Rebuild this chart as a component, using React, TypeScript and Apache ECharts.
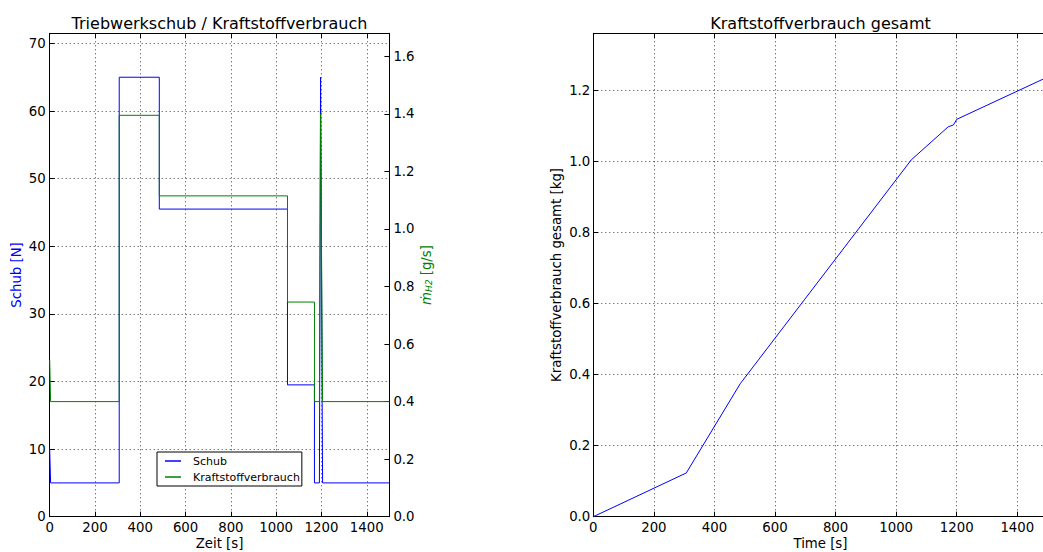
import React, { useEffect, useRef } from "react";
import * as echarts from "echarts";

const F = "DejaVu Sans";

// Left chart: thrust [N] and H2 mass flow [g/s] over time [s]
const thrustTime = [0, 4, 307, 307, 484, 484, 1050, 1050, 1169, 1169, 1191, 1196, 1198, 1205, 1500];
const thrustN = [10, 5, 5, 65, 65, 45.5, 45.5, 19.5, 19.5, 5, 5, 65, 65, 5, 5];
const fuelTime = [0, 4, 307, 307, 484, 484, 1050, 1050, 1169, 1169, 1191, 1196, 1198, 1205, 1500];
const fuelRate = [0.545, 0.4, 0.4, 1.395, 1.395, 1.115, 1.115, 0.746, 0.746, 0.4, 0.4, 1.4, 1.4, 0.4, 0.4];

// Right chart: cumulative fuel [kg]
const totalTime = [0, 307, 485, 1050, 1172, 1189, 1200, 1500];
const totalFuel = [0, 0.123, 0.374, 1.004, 1.097, 1.102, 1.118, 1.237];

const legendNames = ["Schub", "Kraftstoffverbrauch"];
const titles = ["Triebwerkschub / Kraftstoffverbrauch", "Kraftstoffverbrauch gesamt"];

export default function App() {
  const ref = useRef<HTMLDivElement>(null);
  useEffect(() => {
    if (!ref.current) return;
    const chart = echarts.init(ref.current, null, { renderer: "svg" });
    const FS = 13.3;
    const axisLine = { show: true, onZero: false, lineStyle: { color: "#000", width: 1 } };
    const tick = { show: true, inside: true, length: 5, lineStyle: { color: "#000", width: 1 } };
    const split = { show: true, lineStyle: { color: "#000", type: [1, 3], width: 1, opacity: 0.75 } };
    const lbl = { color: "#000", fontSize: FS, fontFamily: F };
    const nameStyle = (c: string) => ({ color: c, fontSize: FS, fontFamily: F });
    const fmt0 = (v: number) => String(Math.round(v));
    const fmt1 = (v: number) => v.toFixed(1);

    chart.setOption({
      animation: false,
      backgroundColor: "#fff",
      title: [
        { text: titles[0], left: 219.5, top: 15, padding: 0, textAlign: "center", textStyle: { fontSize: 16, fontWeight: "normal", color: "#000", fontFamily: F } },
        { text: titles[1], left: 820.5, top: 15, padding: 0, textAlign: "center", textStyle: { fontSize: 16, fontWeight: "normal", color: "#000", fontFamily: F } },
      ],
      grid: [
        { left: 49.7, top: 33.3, width: 339.7, height: 483.4, containLabel: false, outerBoundsMode: "none" },
        { left: 593.3, top: 33.3, width: 454.3, height: 483.4, containLabel: false, outerBoundsMode: "none" },
      ],
      legend: {
        data: legendNames,
        orient: "vertical",
        left: 157,
        top: 452,
        padding: [2, 2, 2, 8],
        itemGap: 2,
        itemWidth: 16,
        itemHeight: 1.5,
        icon: "rect",
        borderColor: "#000",
        borderWidth: 1,
        borderRadius: 0,
        backgroundColor: "#fff",
        textStyle: { fontSize: 11, fontFamily: F, color: "#000", lineHeight: 14, padding: [0, 0, 0, 7] },
      },
      xAxis: [
        { gridIndex: 0, type: "value", position: "bottom", min: 0, max: 1500, interval: 200, axisLine, axisTick: tick, splitLine: split,
          axisLabel: { ...lbl, margin: 4, showMaxLabel: false, formatter: fmt0 }, name: "Zeit [s]", nameLocation: "middle", nameGap: 20, nameMoveOverlap: false, nameTextStyle: nameStyle("#000") },
        { gridIndex: 0, type: "value", position: "top", min: 0, max: 1500, interval: 200, axisLine, axisTick: tick, splitLine: { show: false }, axisLabel: { show: false } },
        { gridIndex: 1, type: "value", position: "bottom", min: 0, max: 1500, interval: 200, axisLine, axisTick: tick, splitLine: split,
          axisLabel: { ...lbl, margin: 4, showMaxLabel: false, formatter: fmt0 }, name: "Time [s]", nameLocation: "middle", nameGap: 20, nameMoveOverlap: false, nameTextStyle: nameStyle("#000") },
        { gridIndex: 1, type: "value", position: "top", min: 0, max: 1500, interval: 200, axisLine, axisTick: tick, splitLine: { show: false }, axisLabel: { show: false } },
      ],
      yAxis: [
        { gridIndex: 0, type: "value", position: "left", min: 0, max: 71.5, interval: 10, axisLine, axisTick: tick, splitLine: split,
          axisLabel: { ...lbl, margin: 4, showMaxLabel: false, formatter: fmt0 }, name: "Schub [N]", nameLocation: "middle", nameRotate: 90, nameGap: 27, nameMoveOverlap: false, nameTextStyle: nameStyle("#0000ff") },
        { gridIndex: 0, type: "value", position: "right", min: 0, max: 1.68, interval: 0.2, axisLine, axisTick: tick, splitLine: { show: false },
          axisLabel: { ...lbl, margin: 4, showMaxLabel: false, formatter: fmt1 },
          name: "{m|ṁ}{s|H2}{n| [g/s]}", nameLocation: "middle", nameRotate: 90, nameGap: 31, nameMoveOverlap: false,
          nameTextStyle: { ...nameStyle("#008000"), rich: {
            m: { fontStyle: "italic", fontSize: FS, color: "#008000", fontFamily: F },
            s: { fontStyle: "italic", fontSize: 9, color: "#008000", fontFamily: F, verticalAlign: "bottom" },
            n: { fontSize: FS, color: "#008000", fontFamily: F },
          } } },
        { gridIndex: 1, type: "value", position: "left", min: 0, max: 1.36, interval: 0.2, axisLine, axisTick: tick, splitLine: split,
          axisLabel: { ...lbl, margin: 3, showMaxLabel: false, formatter: fmt1 },
          name: "Kraftstoffverbrauch gesamt [kg]", nameLocation: "middle", nameRotate: 90, nameGap: 30, nameMoveOverlap: false, nameTextStyle: nameStyle("#000") },
      ],
      series: [
        { type: "line", name: legendNames[0], xAxisIndex: 0, yAxisIndex: 0, symbol: "none", showSymbol: false,
          data: thrustTime.map((t, i) => [t, thrustN[i]]), lineStyle: { color: "#0000ff", width: 1 }, itemStyle: { color: "#0000ff" } },
        { type: "line", name: legendNames[1], xAxisIndex: 0, yAxisIndex: 1, symbol: "none", showSymbol: false,
          data: fuelTime.map((t, i) => [t, fuelRate[i]]), lineStyle: { color: "#008000", width: 1 }, itemStyle: { color: "#008000" } },
        { type: "line", name: "gesamt", xAxisIndex: 2, yAxisIndex: 2, symbol: "none", showSymbol: false,
          data: totalTime.map((t, i) => [t, totalFuel[i]]), lineStyle: { color: "#0000ff", width: 1 }, itemStyle: { color: "#0000ff" } },
      ],
    });
    return () => chart.dispose();
  }, []);
  return <div ref={ref} style={{ position: "absolute", left: 0, top: 0, width: 1043, height: 552 }} />;
}
